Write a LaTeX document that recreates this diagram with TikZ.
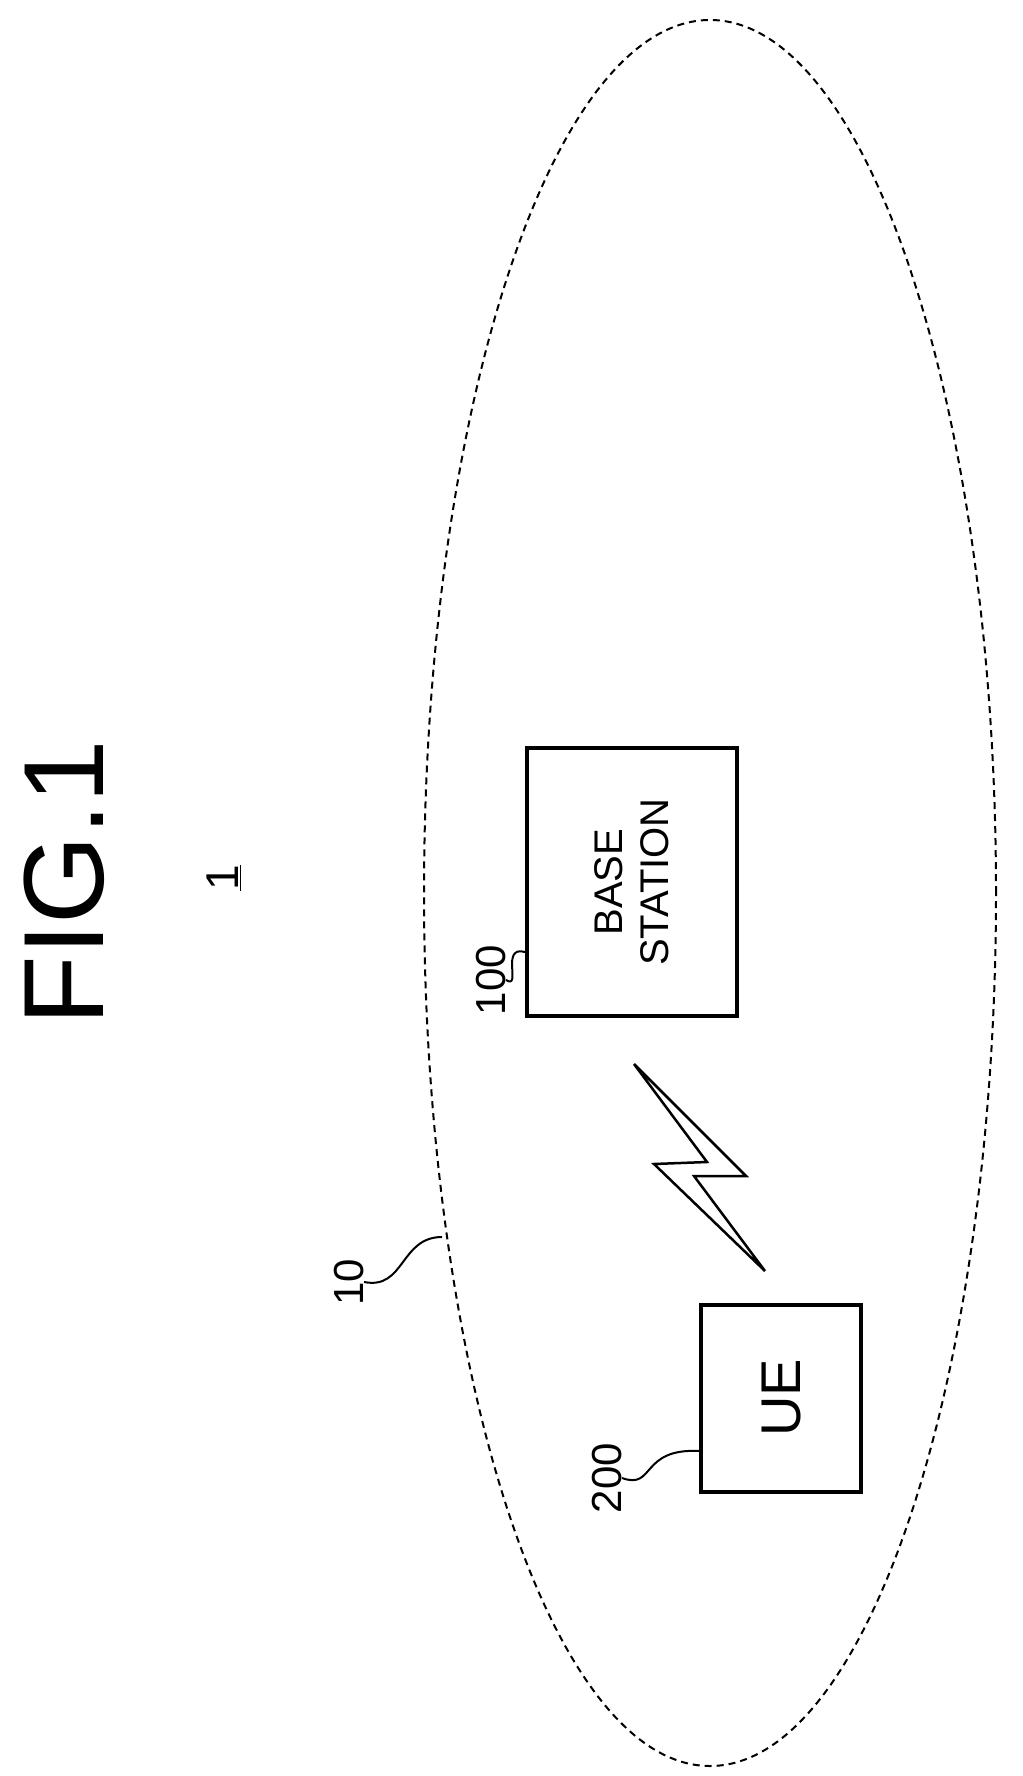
\documentclass[tikz,border=0pt]{standalone}
\usetikzlibrary{shapes.geometric}
\usepackage{fontspec}
\setmainfont{Liberation Sans}
\begin{document}
\begin{tikzpicture}[x=1pt,y=-1pt,
  box/.style={draw,line width=4pt,inner sep=0pt},
  lbl/.style={rotate=90,inner sep=0pt},
  lead/.style={line width=2pt}]
\useasboundingbox (0,0) rectangle (1022,1776);
\node[draw,line width=2pt,ellipse,minimum width=572pt,minimum height=1746pt,inner sep=0pt,dash pattern=on 7pt off 5pt] (cell) at (710,893) {};
\node[lbl,font=\fontsize{114}{114}\selectfont] (fig) at (64,883) {FIG.1};
\node[lbl,font=\fontsize{46}{46}\selectfont] (one) at (224,878) {\underline{1}};
\node[box,minimum width=210pt,minimum height=268pt] (bs) at (632,882) {};
\node[lbl,font=\fontsize{40}{46}\selectfont,align=center] (bst) at (bs) {BASE\\STATION};
\node[box,minimum width=160pt,minimum height=187pt] (ue) at (781,1398) {};
\node[lbl,font=\fontsize{56}{56}\selectfont] (uet) at (ue) {UE};
\draw[line width=2.5pt,line join=miter] (634,1064) -- (746,1176) -- (694,1176) -- (765,1271) -- (654,1164) -- (707,1162) -- cycle;
\node[lbl,font=\fontsize{42}{42}\selectfont] (n100) at (491,980) {100};
\node[lbl,font=\fontsize{42}{42}\selectfont] (n10) at (349,1282) {10};
\node[lbl,font=\fontsize{42}{42}\selectfont] (n200) at (607,1478) {200};
\coordinate (c10) at (442,1237);
\draw[lead] (n100.south) .. controls (522,990) and (500,945) .. (bs.west |- 0,952);
\draw[lead] (n10.south) .. controls (405,1290) and (400,1237) .. (c10);
\draw[lead] (n200.south) .. controls (655,1490) and (640,1448) .. (ue.west |- 0,1451);
\end{tikzpicture}
\end{document}
